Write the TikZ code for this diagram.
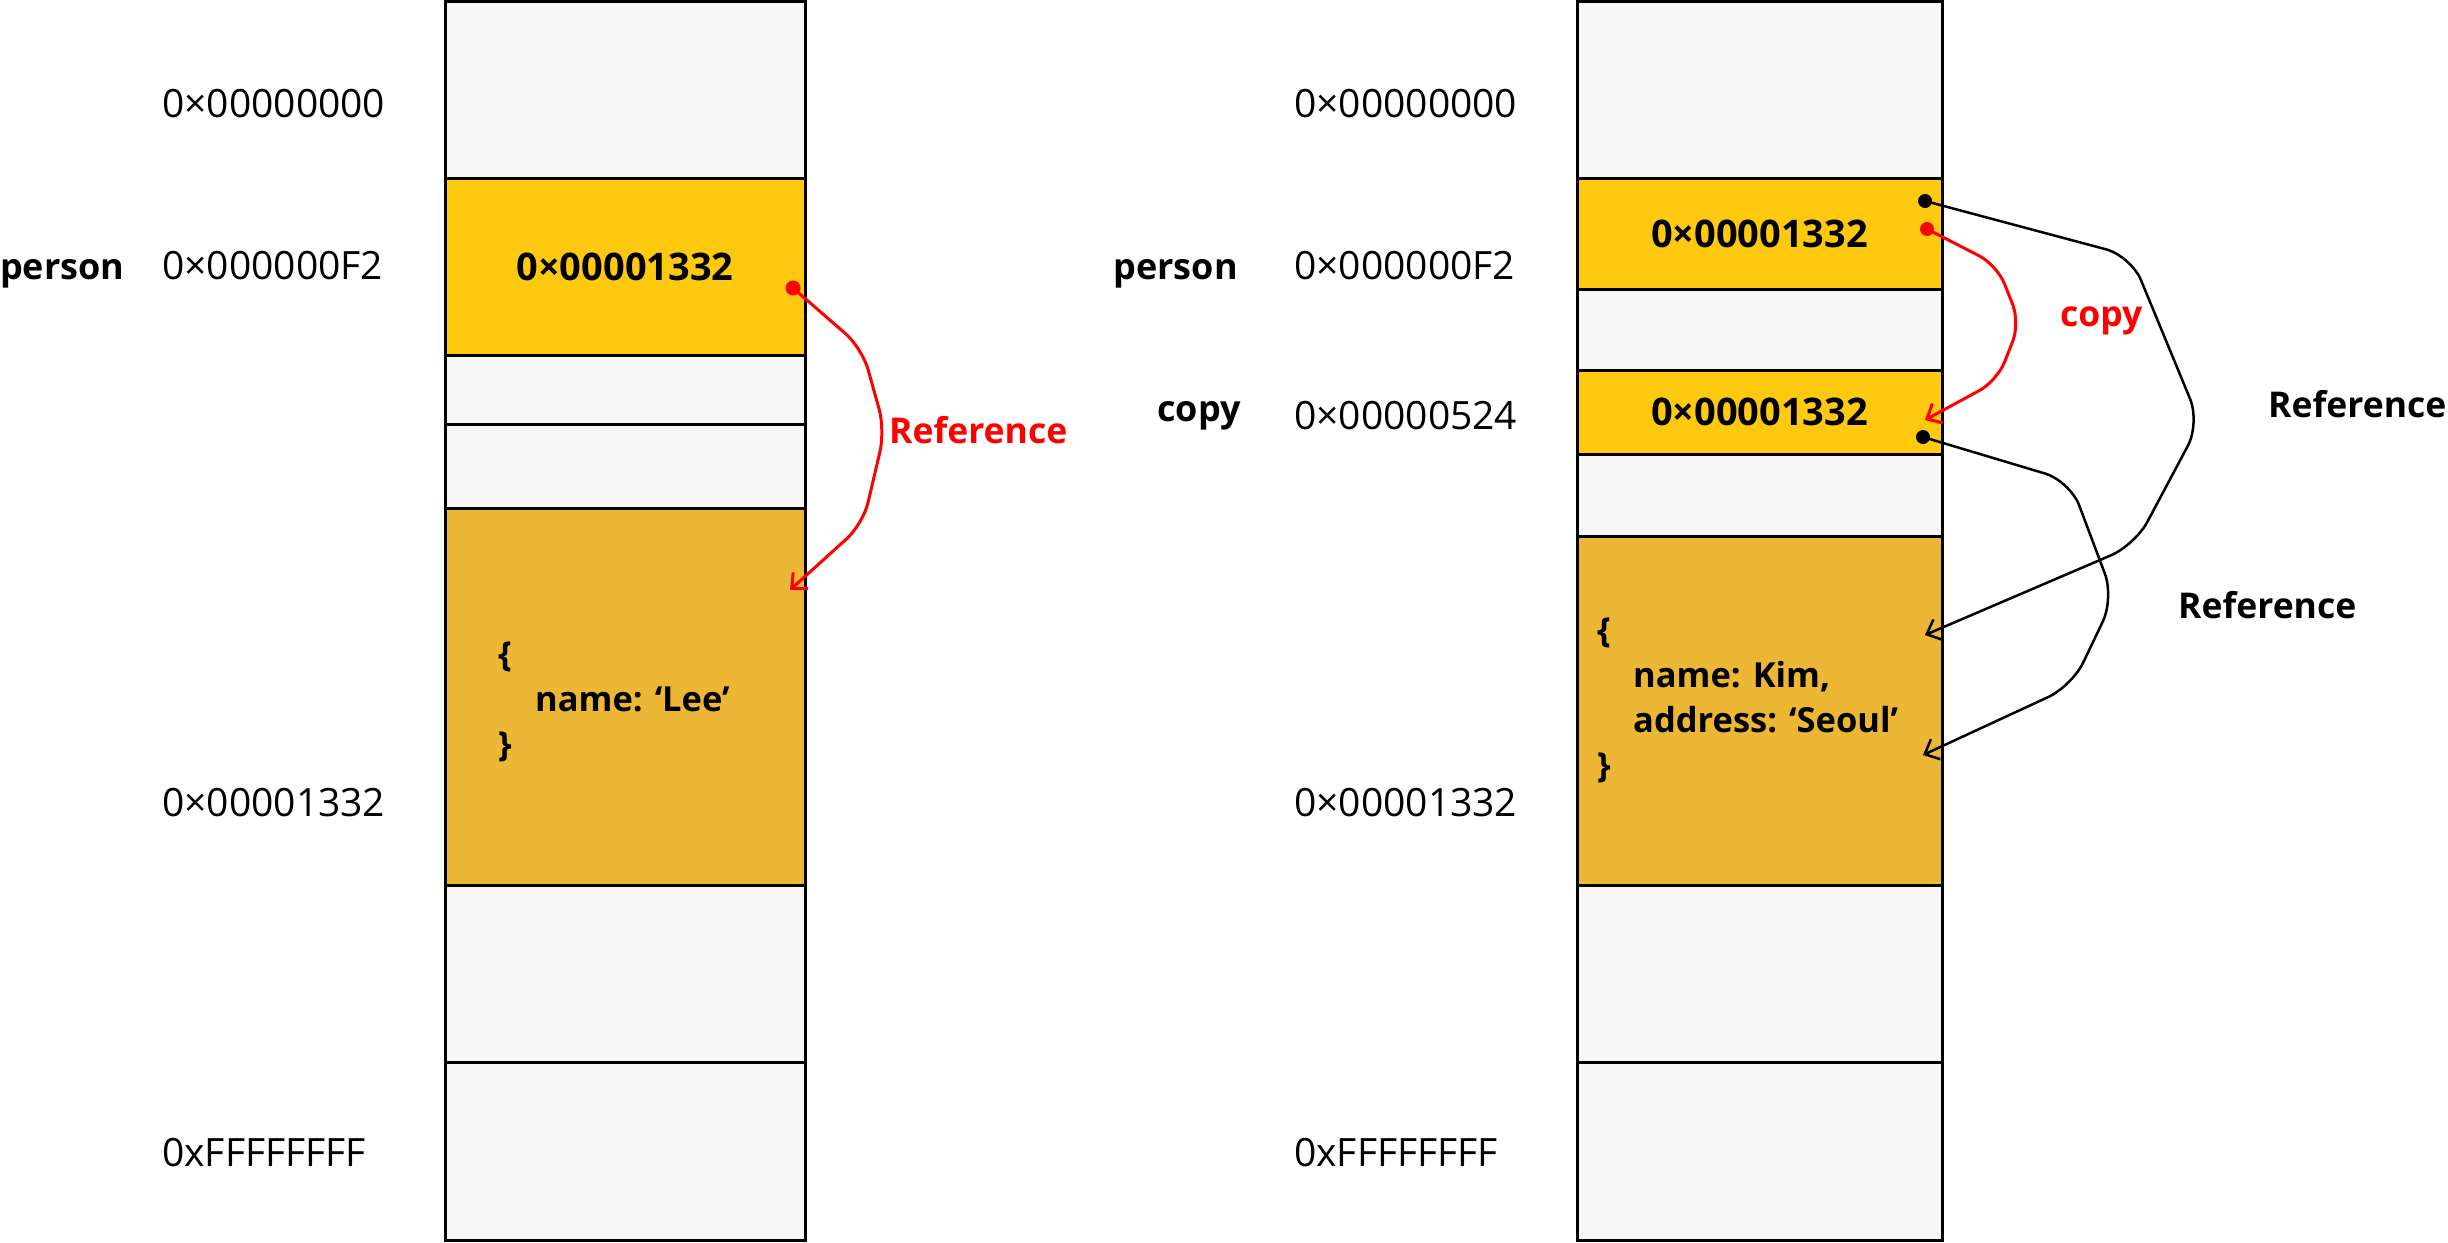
\documentclass[tikz,border=0pt]{standalone}
\usepackage{fontspec}
\setmainfont{Open Sans}
\usetikzlibrary{positioning,arrows.meta}
\definecolor{cellgray}{HTML}{F7F7F7}
\definecolor{valyellow}{HTML}{FEC90F}
\definecolor{objgold}{HTML}{EBB734}
\definecolor{refred}{HTML}{FF0000}
\begin{document}
\begin{tikzpicture}[x=1pt, y=-1pt,
  >={Straight Barb[length=12pt,width=22pt]},
  cell/.style={draw, line width=3pt, fill=cellgray, inner sep=0pt, outer sep=0pt, font=\fontsize{38}{44}\selectfont\bfseries},
  addr/.style={anchor=base west, inner sep=0pt, font=\fontsize{39}{46}\selectfont},
  var/.style={anchor=base east, inner sep=0pt, font=\fontsize{36}{42}\selectfont\bfseries},
  obj/.style={anchor=base west, inner sep=0pt, font=\fontsize{34.5}{40}\selectfont\bfseries},
  refline/.style={->, line width=2.5pt, rounded corners=26pt},
  reflabel/.style={anchor=base west, inner sep=0pt, font=\fontsize{35.5}{42}\selectfont\bfseries}]
  \useasboundingbox (0,0) rectangle (2448,1242);

  % memory before copy
  \node[cell, anchor=north west, minimum width=360pt, minimum height=176.5pt] (L0) at (445,1.5) {};
  \node[cell, minimum width=360pt, fill=valyellow, minimum height=177pt, below=0pt of L0] (L1) {0×00001332};
  \node[cell, minimum width=360pt, minimum height=69pt, below=0pt of L1] (L2) {};
  \node[cell, minimum width=360pt, minimum height=84pt, below=0pt of L2] (L3) {};
  \node[cell, minimum width=360pt, fill=objgold, minimum height=377pt, below=0pt of L3] (L4) {};
  \node[cell, minimum width=360pt, minimum height=177pt, below=0pt of L4] (L5) {};
  \node[cell, minimum width=360pt, minimum height=178.5pt, below=0pt of L5] (L6) {};

  \node[addr] (Laddr0) at (162,117.5) {0×00000000};
  \node[addr] (Laddr1) at (162,279) {0×000000F2};
  \node[addr] (Laddr4) at (162,816) {0×00001332};
  \node[addr] (Laddr6) at (162,1166) {0xFFFFFFFF};
  \node[var, anchor=base west] (Lperson) at (0,279) {person};

  \node[obj] (Lobj0) at (498,666) {\{};
  \node[obj] (Lobj1) at (535,711) {name: ‘Lee’};
  \node[obj] (Lobj2) at (498,756) {\}};

  \coordinate (lsrc) at (793,288);
  \coordinate (ldst) at (790,590);
  \draw[refline, refred, line width=3pt, rounded corners=22pt] (lsrc) -- (862,348) -- (885,430) -- (863,524) -- (ldst);
  \fill[refred] (lsrc) circle (7.5pt);
  \node[reflabel, text=refred] (Lref) at (889,443) {Reference};

  % memory after copy
  \node[cell, anchor=north west, minimum width=365pt, minimum height=176.5pt] (R0) at (1577,1.5) {};
  \node[cell, minimum width=365pt, fill=valyellow, minimum height=111pt, below=0pt of R0] (R1) {0×00001332};
  \node[cell, minimum width=365pt, minimum height=81pt, below=0pt of R1] (R2) {};
  \node[cell, minimum width=365pt, fill=valyellow, minimum height=84pt, below=0pt of R2] (R3) {0×00001332};
  \node[cell, minimum width=365pt, minimum height=82pt, below=0pt of R3] (R4) {};
  \node[cell, minimum width=365pt, fill=objgold, minimum height=349pt, below=0pt of R4] (R5) {};
  \node[cell, minimum width=365pt, minimum height=177pt, below=0pt of R5] (R6) {};
  \node[cell, minimum width=365pt, minimum height=178.5pt, below=0pt of R6] (R7) {};

  \node[addr] (Raddr0) at (1294,117.5) {0×00000000};
  \node[addr] (Raddr1) at (1294,279) {0×000000F2};
  \node[addr] (Raddr3) at (1294,429) {0×00000524};
  \node[addr] (Raddr5) at (1294,816) {0×00001332};
  \node[addr] (Raddr7) at (1294,1166) {0xFFFFFFFF};
  \node[var] (Rperson) at (1238,279) {person};
  \node[var] (Rcopy) at (1241,421) {copy};

  \node[obj] (Robj0) at (1597,642) {\{};
  \node[obj] (Robj1) at (1633,687) {name: Kim,};
  \node[obj] (Robj2) at (1633,732) {address: ‘Seoul’};
  \node[obj] (Robj3) at (1597,777) {\}};

  \coordinate (rpsrc) at (1925,201);
  \coordinate (rpdst) at (1925,635);
  \coordinate (rcsrc) at (1927,229);
  \coordinate (rcdst) at (1925,420);
  \coordinate (rqsrc) at (1923,437);
  \coordinate (rqdst) at (1923,755);
  \draw[refline] (rpsrc) -- (2131,256) -- (2200,423) -- (2135,545) -- (rpdst);
  \draw[refline] (rqsrc) -- (2070,481) -- (2114,598) -- (2072,686) -- (rqdst);
  \draw[refline, refred, line width=3pt, rounded corners=20pt] (rcsrc) -- (1997,265) -- (2020,323) -- (1997,381) -- (rcdst);
  \fill (rpsrc) circle (7pt);
  \fill (rqsrc) circle (7pt);
  \fill[refred] (rcsrc) circle (7pt);
  \node[reflabel, text=refred] (Rcopylbl) at (2060,326) {copy};
  \node[reflabel] (Rref0) at (2268,417) {Reference};
  \node[reflabel] (Rref1) at (2178,618) {Reference};
\end{tikzpicture}
\end{document}
